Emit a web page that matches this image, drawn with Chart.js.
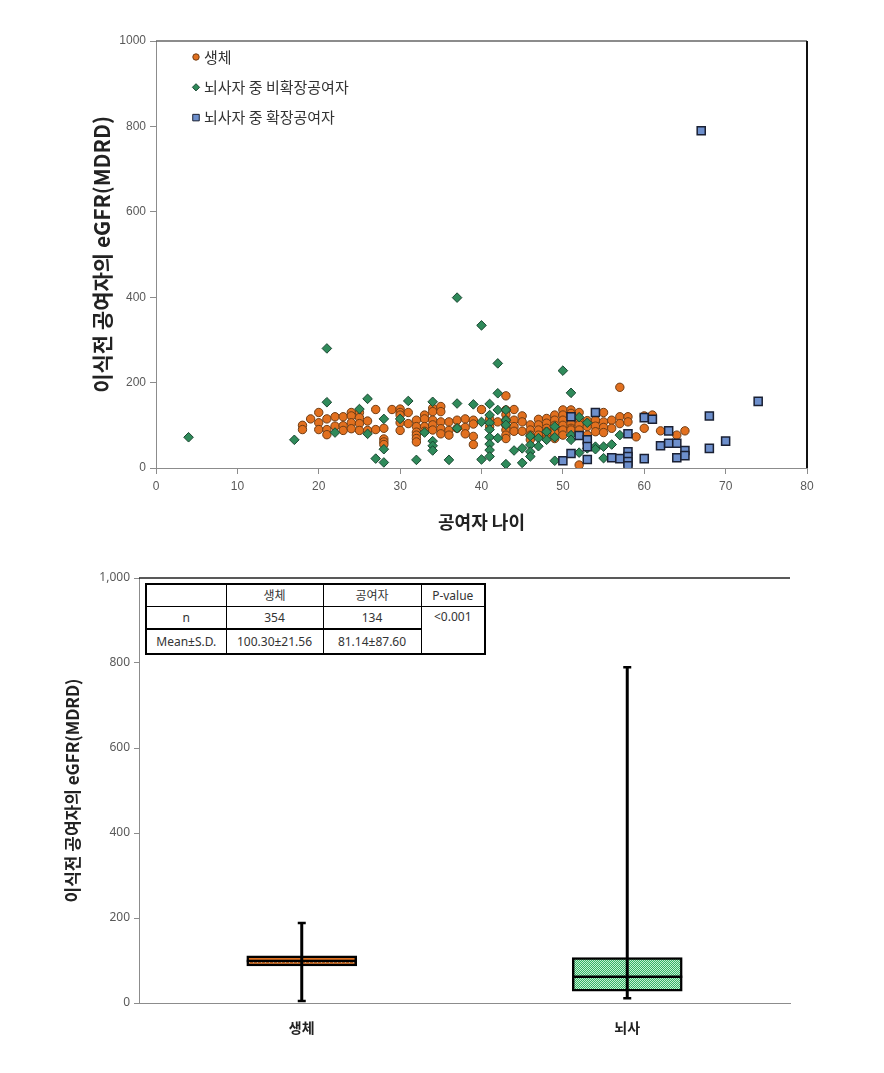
<!DOCTYPE html>
<html>
<head>
<meta charset="utf-8">
<script src="https://cdn.jsdelivr.net/npm/chart.js@4.4.1/dist/chart.umd.min.js"></script>
<style>
  body { margin: 0; background: #fff; width: 884px; height: 1073px; position: relative; overflow: hidden; }
  #scatterChart { position: absolute; left: 0; top: 0; }
  #boxChart { position: absolute; left: 0; top: 545px; }
  .stats { position: absolute; left: 145px; top: 583px; border-collapse: collapse; table-layout: fixed;
           border: 2px solid #000; background: #fff; font: 12px "Noto Sans", "Noto Sans CJK KR", sans-serif; color: #333; }
  .stats td { border: 1px solid #000; text-align: center; padding: 0; line-height: 14px; }
  .stats tr.r0 td, .stats tr.r1 td { height: 21px; }
  .stats tr.r2 td { height: 23px; border-top: 2px solid #000; }
  .stats td.pval { vertical-align: top; padding-top: 3px; }
</style>
</head>
<body>
<canvas id="scatterChart" width="884" height="545"></canvas>
<canvas id="boxChart" width="884" height="528"></canvas>
<table class="stats" id="statsTable"></table>
<script>
// ---- scatter data: [age, eGFR] ----
const livingDonors = [
  [18,100],[18,90],[19,115],[20,130],[20,106],[20,90],[21,115],[21,90],[21,78],
  [22,120],[22,98],[23,120],[23,99],[23,88],[24,130],[24,122],[24,106],[24,92],
  [25,130],[25,118],[25,104],[25,88],[26,110],[26,88],[27,137],[27,90],
  [28,93],[28,68],[28,61],[28,55],[29,137],[30,138],[30,130],[30,124],[30,106],[30,88],
  [31,130],[31,104],[32,112],[32,97],[32,84],[32,77],[32,69],[32,61],
  [33,124],[33,115],[33,97],[33,86],[34,140],[34,132],[34,112],[34,101],[34,89],
  [35,144],[35,132],[35,108],[35,92],[35,80],[36,108],[36,88],[36,77],[37,112],[37,93],
  [38,115],[38,95],[38,80],[39,112],[39,103],[39,74],[39,55],[40,137],[41,115],[41,97],
  [42,108],[43,169],[43,136],[43,125],[43,112],[43,100],[43,89],[43,77],[43,69],
  [44,137],[44,112],[44,97],[44,86],[45,122],[45,108],[45,86],[46,101],[46,89],[46,77],[46,66],
  [47,114],[47,101],[47,89],[47,77],[48,116],[48,105],[48,93],[48,85],[48,77],[48,69],
  [49,124],[49,112],[49,100],[49,89],[49,83],[49,69],[50,136],[50,124],[50,112],[50,100],[50,89],[50,77],
  [51,136],[51,128],[51,104],[51,93],[51,89],[52,130],[52,112],[52,101],[52,89],[52,7],
  [53,111],[53,97],[53,77],[54,112],[54,98],[54,85],[55,130],[55,108],[55,95],[55,83],
  [56,112],[56,93],[57,189],[57,120],[57,104],[58,120],[58,108],[59,73],[60,122],[60,93],
  [61,124],[62,87],[64,77],[65,87]
];
const standardDonors = [
  [4,72],[17,66],[21,280],[21,154],[22,83],[25,138],[26,162],[26,80],[27,22],[28,115],[28,44],[28,13],
  [30,115],[31,157],[32,19],[33,83],[34,155],[34,63],[34,52],[34,41],[36,19],[37,399],[37,151],[37,93],
  [39,149],[40,334],[40,108],[40,20],[41,150],[41,124],[41,106],[41,90],[41,72],[41,56],[41,42],[41,27],
  [42,245],[42,175],[42,136],[42,70],[43,136],[43,112],[43,101],[43,9],[44,41],[45,46],[45,12],
  [46,75],[46,54],[46,38],[46,27],[47,70],[47,51],[48,85],[48,66],[49,97],[49,72],[49,17],
  [50,228],[51,176],[51,77],[51,66],[52,119],[52,36],[53,106],[53,46],[54,50],[54,44],
  [55,50],[55,23],[56,55],[57,77]
];
const expandedDonors = [
  [50,17],[51,120],[51,34],[52,76],[53,66],[53,50],[53,20],[54,130],[56,24],[57,22],
  [58,80],[58,38],[58,27],[58,15],[58,5],[60,118],[60,22],[61,114],[62,52],[63,87],[63,58],
  [64,58],[64,24],[65,41],[65,29],[67,790],[68,122],[68,46],[70,63],[74,156]
];

// ---- box plot data ----
const groups = ['생체', '뇌사'];
const boxQ1 = [87, 28];
const boxQ3 = [111, 107];
const medians = [99, 62];
const whiskerMin = [5, 11];
const whiskerMax = [188, 790];

// ---- table ----
const tableHeader = ['', '생체', '공여자', 'P-value'];
const tableN = ['n', '354', '134'];
const tableMean = ['Mean±S.D.', '100.30±21.56', '81.14±87.60'];
const pValue = '<0.001';

const tickFont = { family: '"Liberation Sans", Arial, sans-serif', size: 12 };
const korFont = '"Noto Sans CJK KR", sans-serif';

const toPoints = (arr) => arr.map(p => ({ x: p[0], y: p[1] }));

// legend inside plot + top/right frame
const scatterExtras = {
  id: 'scatterExtras',
  afterDraw(chart) {
    const { ctx, chartArea } = chart;
    ctx.save();
    ctx.strokeStyle = '#666';
    ctx.lineWidth = 1.5;
    ctx.beginPath();
    ctx.moveTo(chartArea.left, chartArea.top);
    ctx.lineTo(chartArea.right, chartArea.top);
    ctx.stroke();
    ctx.strokeStyle = '#111';
    ctx.lineWidth = 2;
    ctx.beginPath();
    ctx.moveTo(chartArea.right, chartArea.top);
    ctx.lineTo(chartArea.right, chartArea.bottom);
    ctx.stroke();

    ctx.font = '15px ' + korFont;
    ctx.textBaseline = 'middle';
    ctx.textAlign = 'left';
    chart.data.datasets.forEach((ds, i) => {
      const x = chartArea.left + 40;
      const y = chartArea.top + 16 + i * 30.3;
      ctx.fillStyle = ds.backgroundColor;
      ctx.strokeStyle = ds.borderColor;
      ctx.lineWidth = 1;
      Chart.helpers.drawPoint(ctx, { pointStyle: ds.pointStyle, radius: ds.legendRadius, borderWidth: 1 }, x, y);
      ctx.fillStyle = '#333';
      ctx.fillText(ds.label, x + 8, y);
    });
    ctx.restore();
  }
};

new Chart(document.getElementById('scatterChart'), {
  type: 'scatter',
  data: {
    datasets: [
      { label: '생체', data: toPoints(livingDonors), pointStyle: 'circle', pointRadius: 4.2, legendRadius: 3.2,
        backgroundColor: '#e2701f', borderColor: '#6e3c14', borderWidth: 1, order: 3 },
      { label: '뇌사자 중 비확장공여자', data: toPoints(standardDonors), pointStyle: 'rectRot', pointRadius: 4.8, legendRadius: 3.6,
        backgroundColor: '#2f8a5a', borderColor: '#1a4731', borderWidth: 1, order: 2 },
      { label: '뇌사자 중 확장공여자', data: toPoints(expandedDonors), pointStyle: 'rect', pointRadius: 5.7, legendRadius: 4.6,
        backgroundColor: '#6d8fcc', borderColor: '#1a2033', borderWidth: 1.5, order: 1 }
    ]
  },
  options: {
    responsive: false,
    animation: false,
    layout: { padding: { left: 0, top: 41, right: 77, bottom: 0 } },
    plugins: { legend: { display: false }, tooltip: { enabled: false } },
    scales: {
      x: {
        type: 'linear', min: 0, max: 80,
        ticks: { stepSize: 10, font: tickFont, color: '#595959', padding: 5 },
        grid: { drawOnChartArea: false, tickLength: 6, color: '#8c8c8c' },
        border: { color: '#8c8c8c' },
        title: { display: true, text: '공여자 나이', color: '#222',
                 font: { family: korFont, size: 18, weight: 'bold' }, padding: { top: 0, bottom: 12 } },
        afterFit: (s) => { s.height = 77; }
      },
      y: {
        type: 'linear', min: 0, max: 1000,
        ticks: { stepSize: 200, font: tickFont, color: '#595959', padding: 4, callback: (v) => String(v) },
        grid: { drawOnChartArea: false, tickLength: 6, color: '#8c8c8c' },
        border: { color: '#8c8c8c' },
        title: { display: true, text: '이식전 공여자의 eGFR(MDRD)', color: '#222',
                 font: { family: korFont, size: 21, weight: 'bold' }, padding: { top: 89, bottom: 0 } },
        afterFit: (s) => { s.width = 156; }
      }
    }
  },
  plugins: [scatterExtras]
});

// ---- box plot ----
function makePattern(w, h, draw) {
  const c = document.createElement('canvas');
  c.width = w; c.height = h;
  const g = c.getContext('2d');
  draw(g);
  return g.createPattern(c, 'repeat');
}
const orangeDots = makePattern(4, 5, g => {
  g.fillStyle = '#df701f'; g.fillRect(0, 0, 4, 5);
  g.fillStyle = '#f8d2b0'; g.fillRect(1, 2, 1, 1);
});
const greenCheck = makePattern(2, 2, g => {
  g.fillStyle = '#c6f0d3'; g.fillRect(0, 0, 2, 2);
  g.fillStyle = '#35b366'; g.fillRect(0, 0, 1, 1); g.fillRect(1, 1, 1, 1);
});

const boxExtras = {
  id: 'boxExtras',
  afterDatasetsDraw(chart) {
    const { ctx, chartArea, scales: { x, y } } = chart;
    const meta = chart.getDatasetMeta(0);
    ctx.save();
    ctx.strokeStyle = '#000';
    groups.forEach((g, i) => {
      const cx = x.getPixelForValue(i);
      const half = meta.data[i].width / 2;
      // median
      ctx.lineWidth = 2.5;
      ctx.beginPath();
      ctx.moveTo(cx - half, y.getPixelForValue(medians[i]));
      ctx.lineTo(cx + half, y.getPixelForValue(medians[i]));
      ctx.stroke();
      // whisker
      const yMin = y.getPixelForValue(whiskerMin[i]);
      const yMax = y.getPixelForValue(whiskerMax[i]);
      ctx.lineWidth = 3;
      ctx.beginPath();
      ctx.moveTo(cx, yMin);
      ctx.lineTo(cx, yMax);
      ctx.stroke();
      ctx.lineWidth = 2.5;
      ctx.beginPath();
      ctx.moveTo(cx - 4, yMin); ctx.lineTo(cx + 4, yMin);
      ctx.moveTo(cx - 4, yMax); ctx.lineTo(cx + 4, yMax);
      ctx.stroke();
    });
    // top frame line
    ctx.strokeStyle = '#222';
    ctx.lineWidth = 1.5;
    ctx.beginPath();
    ctx.moveTo(chartArea.left, chartArea.top);
    ctx.lineTo(chartArea.right, chartArea.top);
    ctx.stroke();
    ctx.restore();
  }
};

new Chart(document.getElementById('boxChart'), {
  type: 'bar',
  data: {
    labels: groups,
    datasets: [{
      data: groups.map((g, i) => [boxQ1[i], boxQ3[i]]),
      backgroundColor: [orangeDots, greenCheck],
      borderColor: '#000',
      borderWidth: 2.5,
      borderSkipped: false,
      barThickness: 110
    }]
  },
  options: {
    responsive: false,
    animation: false,
    layout: { padding: { left: 0, top: 33, right: 94, bottom: 0 } },
    plugins: { legend: { display: false }, tooltip: { enabled: false } },
    scales: {
      x: {
        grid: { display: false, drawTicks: false },
        border: { color: '#8c8c8c' },
        ticks: { font: { family: korFont, size: 14, weight: 'bold' }, color: '#222', padding: 16 },
        afterFit: (s) => { s.height = 70; }
      },
      y: {
        min: 0, max: 1000,
        ticks: { stepSize: 200, font: { family: '"Noto Sans", sans-serif', size: 12 }, color: '#595959', padding: 4 },
        grid: { drawOnChartArea: false, tickLength: 5, color: '#8c8c8c' },
        border: { color: '#8c8c8c' },
        title: { display: true, text: '이식전 공여자의 eGFR(MDRD)', color: '#222',
                 font: { family: korFont, size: 17, weight: 'bold' }, padding: { top: 62, bottom: 0 } },
        afterFit: (s) => { s.width = 139; }
      }
    }
  },
  plugins: [boxExtras]
});

// ---- stats table ----
const table = document.getElementById('statsTable');
const colWidths = [80, 97, 98, 64];
table.innerHTML =
  '<colgroup>' + colWidths.map(w => `<col style="width:${w}px">`).join('') + '</colgroup>' +
  '<tr class="r0">' + tableHeader.map(t => `<td>${t}</td>`).join('') + '</tr>' +
  '<tr class="r1">' + tableN.map(t => `<td>${t}</td>`).join('') +
  `<td class="pval" rowspan="2">${pValue.replace('<', '&lt;')}</td></tr>` +
  '<tr class="r2">' + tableMean.map(t => `<td>${t}</td>`).join('') + '</tr>';
</script>
</body>
</html>
